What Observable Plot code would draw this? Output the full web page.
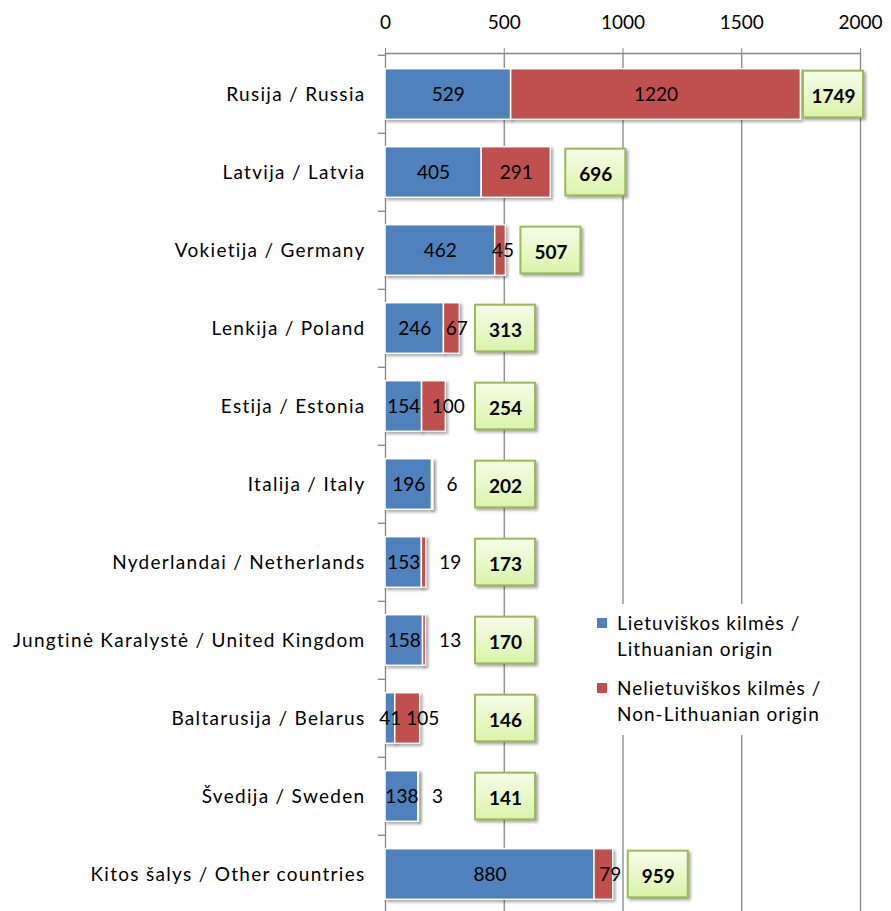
<!DOCTYPE html>
<html>
<head>
<meta charset="utf-8">
<script src="https://cdn.jsdelivr.net/npm/d3@7"></script>
<script src="https://cdn.jsdelivr.net/npm/@observablehq/plot@0.6"></script>
<style>
  html, body { margin: 0; padding: 0; background: #fff; }
  #wrap { position: relative; width: 891px; height: 911px; font-family: Lato, "Open Sans", sans-serif; }
  #legend { position: absolute; left: 588px; top: 604px; width: 262px; height: 131px; background: #fff; font-size: 19px; color: #000; letter-spacing: 1px; }
  .item { position: absolute; left: 29px; line-height: 26px; white-space: nowrap; }
  .sw { position: absolute; left: 9px; width: 10px; height: 10px; }
  svg .shadow { filter: drop-shadow(2px 2px 1.5px rgba(0,0,0,0.35)); }
  svg g[aria-label="y-axis tick label"] text { letter-spacing: 1.3px; }
</style>
</head>
<body>
<div id="wrap"></div>
<script>
const countries = ["Rusija / Russia", "Latvija / Latvia", "Vokietija / Germany", "Lenkija / Poland", "Estija / Estonia", "Italija / Italy", "Nyderlandai / Netherlands", "Jungtinė Karalystė / United Kingdom", "Baltarusija / Belarus", "Švedija / Sweden", "Kitos šalys / Other countries"];
const lithuanian = [529, 405, 462, 246, 154, 196, 153, 158, 41, 138, 880];
const nonLithuanian = [1220, 291, 45, 67, 100, 6, 19, 13, 105, 3, 79];
const totals = [1749, 696, 507, 313, 254, 202, 173, 170, 146, 141, 959];
const xTicks = [0, 500, 1000, 1500, 2000];
const seriesNames = ["Lietuviškos kilmės /\nLithuanian origin", "Nelietuviškos kilmės /\nNon-Lithuanian origin"];
const colors = ["#4f81bd", "#c0504d"];

const rows = countries.map((c, i) => ({
  country: c,
  lt: lithuanian[i],
  nlt: nonLithuanian[i],
  total: totals[i]
}));

const x0 = 385, x1px = 860;
const pxPerUnit = (x1px - x0) / 2000;
const toPx = v => x0 + v * pxPerUnit;
const toVal = p => (p - x0) / pxPerUnit;
// total boxes sit to the right of the bar end, not before ~505px, never past the plot edge
const boxCenter = d => toVal(Math.min(Math.max(toPx(d.lt + d.nlt) + 45, 505), x1px - 27));
const boxHalf = 30 / pxPerUnit;
const step = (915 - 53) / countries.length;
const barInset = (step - 51) / 2;
const boxInset = (step - 47) / 2;

const tiny = rows.filter(d => d.nlt < 30);
const narrow = rows.filter(d => d.nlt >= 30 && d.nlt * pxPerUnit < 40);
const wide = rows.filter(d => d.nlt * pxPerUnit >= 40);

const gradDefs = () => {
  const ns = "http://www.w3.org/2000/svg";
  const defs = document.createElementNS(ns, "defs");
  defs.innerHTML = `<linearGradient id="boxGrad" x1="0" y1="0" x2="0" y2="1">
      <stop offset="0" stop-color="#f7fde9"/>
      <stop offset="1" stop-color="#d9f3a9"/>
    </linearGradient>`;
  return defs;
};

const chart = Plot.plot({
  width: 891,
  height: 911,
  marginLeft: 385,
  marginRight: 31,
  marginTop: 53,
  marginBottom: 0,
  style: { fontFamily: "Lato, 'Open Sans', sans-serif", fontSize: "19px", color: "#000", background: "#fff" },
  x: { domain: [0, 2000], range: [x0, x1px] },
  y: { type: "band", domain: countries, range: [53, 915], padding: 0 },
  marks: [
    gradDefs,
    Plot.gridX(xTicks.filter(t => t > 0), { stroke: "#868686", strokeOpacity: 1, strokeWidth: 1.3 }),
    Plot.ruleX([0], { stroke: "#868686", strokeWidth: 1.3 }),
    Plot.frame({ anchor: "top", stroke: "#868686", strokeWidth: 1.3 }),
    Plot.ruleY(countries, { y: d => d, dy: -step / 2, x1: -30, x2: 0, stroke: "#868686", strokeWidth: 1.3 }),
    Plot.axisX({ anchor: "top", ticks: xTicks, tickSize: 6, tickPadding: 19, stroke: "#868686", fontSize: 19, label: null, tickFormat: d => String(d) }),
    Plot.axisY({ tickSize: 0, tickPadding: 20, fontSize: 19, label: null }),
    Plot.barX(rows, { y: "country", x1: 0, x2: "lt", fill: colors[0], stroke: "#fff", strokeWidth: 1.5, insetTop: barInset, insetBottom: barInset, className: "shadow" }),
    Plot.barX(rows, { y: "country", x1: "lt", x2: d => d.lt + d.nlt, fill: colors[1], stroke: "#fff", strokeWidth: 1.5, insetTop: barInset, insetBottom: barInset, className: "shadow" }),
    Plot.barX(rows, { y: "country", x1: d => boxCenter(d) - boxHalf, x2: d => boxCenter(d) + boxHalf, fill: "url(#boxGrad)", stroke: "#9bbb59", strokeWidth: 2, insetTop: boxInset, insetBottom: boxInset, className: "shadow" }),
    Plot.text(rows, { y: "country", x: d => d.lt / 2, text: d => String(d.lt), fill: "#000", fontSize: 19 }),
    Plot.text(wide, { y: "country", x: d => d.lt + d.nlt / 2, text: d => String(d.nlt), fill: "#000", fontSize: 19 }),
    Plot.text(narrow, { y: "country", x: d => d.lt + d.nlt, dx: -14, textAnchor: "start", text: d => String(d.nlt), fill: "#000", fontSize: 19 }),
    Plot.text(tiny, { y: "country", x: d => d.lt + d.nlt, dx: 13, textAnchor: "start", text: d => String(d.nlt), fill: "#000", fontSize: 19 }),
    Plot.text(rows, { y: "country", x: d => boxCenter(d), dy: 2, text: d => String(d.total), fill: "#000", fontSize: 19, fontWeight: "bold" })
  ]
});

const wrap = document.getElementById("wrap");
wrap.appendChild(chart);

const legend = document.createElement("div");
legend.id = "legend";
const tops = [10, 75];
seriesNames.forEach((name, i) => {
  const sw = document.createElement("div");
  sw.className = "sw";
  sw.style.top = (tops[i] + 4) + "px";
  sw.style.background = colors[i];
  legend.appendChild(sw);
  const it = document.createElement("div");
  it.className = "item";
  it.style.top = (tops[i] - 4) + "px";
  it.innerHTML = name.split("\n").join("<br>");
  legend.appendChild(it);
});
wrap.appendChild(legend);
</script>
</body>
</html>
